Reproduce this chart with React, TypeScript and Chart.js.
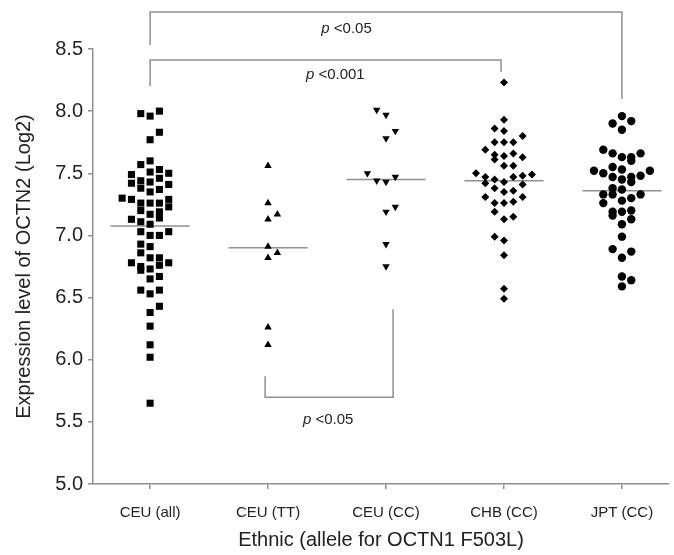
import React, { useEffect, useRef } from 'react';
import { Chart, registerables } from 'chart.js';

Chart.register(...registerables);

const categories = ['CEU (all)', 'CEU (TT)', 'CEU (CC)', 'CHB (CC)', 'JPT (CC)'];
const yTickValues = [5.0, 5.5, 6.0, 6.5, 7.0, 7.5, 8.0, 8.5];

const ceuAllValues = [7.98, 7.96, 8.0, 7.83, 7.77, 7.57, 7.6, 7.49, 7.51, 7.53, 7.5, 7.42, 7.44, 7.43, 7.46, 7.41, 7.38, 7.35, 7.37, 7.3, 7.29, 7.26, 7.26, 7.26, 7.29, 7.2, 7.17, 7.19, 7.23, 7.14, 7.13, 7.11, 7.09, 7.03, 7.0, 7.0, 7.03, 6.93, 6.91, 6.86, 6.78, 6.75, 6.72, 6.82, 6.82, 6.73, 6.76, 6.78, 6.65, 6.67, 6.56, 6.53, 6.56, 6.43, 6.38, 6.27, 6.12, 6.02, 5.65];
const ceuAllSlots = [-1, 0, 1, 1, 0, -1, 0, -2, 0, 1, 2, -2, -1, 0, 1, 2, -1, 0, 1, -3, -2, -1, 0, 1, 2, -1, 0, 1, 2, 1, -2, -1, 0, -1, 0, 1, 2, -1, 0, -1, -2, -1, -1, 0, 1, 0, 1, 2, 0, 1, -1, 0, 1, 1, 0, 0, 0, 0, 0];

const ceuTTValues = [7.56, 7.26, 7.13, 7.17, 6.91, 6.82, 6.86, 6.26, 6.12];
const ceuTTSlots = [0, 0, 0, 1, 0, 0, 1, 0, 0];

const ceuCCValues = [8.01, 7.97, 7.84, 7.78, 7.5, 7.44, 7.43, 7.47, 7.19, 7.23, 6.93, 6.75];
const ceuCCSlots = [-1, 0, 1, 0, -2, -1, 0, 1, 0, 1, 0, 0];

const chbValues = [8.23, 7.93, 7.86, 7.84, 7.8, 7.75, 7.75, 7.75, 7.69, 7.65, 7.61, 7.64, 7.66, 7.63, 7.56, 7.56, 7.5, 7.47, 7.42, 7.45, 7.43, 7.47, 7.48, 7.49, 7.41, 7.38, 7.35, 7.36, 7.31, 7.26, 7.26, 7.27, 7.31, 7.19, 7.13, 7.15, 6.99, 6.96, 6.84, 6.57, 6.49];
const chbSlots = [0, 0, -1, 0, 2, -1, 0, 1, -2, -1, -1, 0, 1, 2, 0, 1, -3, -2, -2, -1, 0, 1, 2, 3, 2, -1, 0, 1, -2, -1, 0, 1, 2, -1, 0, 1, -1, 0, 0, 0, 0];

const jptValues = [7.96, 7.9, 7.92, 7.85, 7.69, 7.66, 7.63, 7.63, 7.6, 7.66, 7.52, 7.5, 7.55, 7.53, 7.47, 7.45, 7.47, 7.43, 7.48, 7.52, 7.38, 7.33, 7.37, 7.33, 7.26, 7.28, 7.3, 7.33, 7.19, 7.16, 7.19, 7.2, 7.13, 7.09, 6.99, 6.89, 6.87, 6.82, 6.67, 6.64, 6.59];
const jptSlots = [0, -1, 1, 0, -2, -1, 0, 1, 1, 2, -3, -2, -1, 0, -1, 0, 1, 1, 2, 3, -1, -1, 0, -2, -2, 0, 1, 2, -1, -1, 0, 1, 1, 0, 0, -1, 1, 0, 0, 1, 0];

const medians = [7.075, 6.9, 7.45, 7.44, 7.36];

// significance brackets (data coordinates): x1, x2, top y, left end y, right end y
const bracketX1 = [1, 1, 1.975];
const bracketX2 = [5, 3.975, 3.06];
const bracketY = [8.798, 8.411, 5.698];
const bracketLeftEnd = [8.532, 8.202, 5.867];
const bracketRightEnd = [8.097, 8.315, 6.407];
const pLabelX = [2.665, 2.57, 2.51];
const pLabelY = [8.66, 8.29, 5.513];
const pLabelText = ['<0.05', '<0.001', '<0.05'];

const SLOT = 0.079;
const FONT = '"Liberation Sans", Arial, Helvetica, sans-serif';

function pts(values: number[], slots: number[], group: number) {
  return values.map((v, i) => ({ x: group + slots[i] * SLOT, y: v }));
}

const bracketPlugin = {
  id: 'brackets',
  afterDraw(chart: any) {
    const { ctx, scales } = chart;
    const xs = scales.x;
    const ys = scales.y;
    ctx.save();
    ctx.strokeStyle = '#8f8f8f';
    ctx.lineWidth = 1.5;
    for (let i = 0; i < bracketX1.length; i++) {
      const x1 = xs.getPixelForValue(bracketX1[i]);
      const x2 = xs.getPixelForValue(bracketX2[i]);
      const y = ys.getPixelForValue(bracketY[i]);
      const yl = ys.getPixelForValue(bracketLeftEnd[i]);
      const yr = ys.getPixelForValue(bracketRightEnd[i]);
      ctx.beginPath();
      ctx.moveTo(x1, yl);
      ctx.lineTo(x1, y);
      ctx.lineTo(x2, y);
      ctx.lineTo(x2, yr);
      ctx.stroke();
    }
    ctx.fillStyle = '#222';
    ctx.textBaseline = 'middle';
    ctx.textAlign = 'left';
    for (let i = 0; i < pLabelX.length; i++) {
      const cx = xs.getPixelForValue(pLabelX[i]);
      const cy = ys.getPixelForValue(pLabelY[i]);
      ctx.font = 'italic 15px ' + FONT;
      const pw = ctx.measureText('p ').width;
      ctx.font = '15px ' + FONT;
      const tw = ctx.measureText(pLabelText[i]).width;
      const start = cx - (pw + tw) / 2;
      ctx.font = 'italic 15px ' + FONT;
      ctx.fillText('p', start, cy);
      ctx.font = '15px ' + FONT;
      ctx.fillText(pLabelText[i], start + pw, cy);
    }
    ctx.restore();
  },
};

export default function App() {
  const ref = useRef<HTMLCanvasElement | null>(null);
  useEffect(() => {
    if (!ref.current) return;
    const black = '#000';
    const medianSets = medians.map((m, i) => ({
      type: 'scatter' as const,
      data: [
        { x: i + 1 - 0.335, y: m },
        { x: i + 1 + 0.335, y: m },
      ],
      showLine: true,
      borderColor: '#8f8f8f',
      borderWidth: 1.5,
      pointRadius: 0,
      order: 10,
    }));
    const chart = new Chart(ref.current, {
      type: 'scatter',
      data: {
        datasets: [
          ...medianSets,
          { data: pts(ceuAllValues, ceuAllSlots, 1), pointStyle: 'rect', pointRadius: 5, backgroundColor: black, borderWidth: 0 },
          { data: pts(ceuTTValues, ceuTTSlots, 2), pointStyle: 'triangle', pointRadius: 4.3, backgroundColor: black, borderWidth: 0 },
          { data: pts(ceuCCValues, ceuCCSlots, 3), pointStyle: 'triangle', rotation: 180, pointRadius: 4.3, backgroundColor: black, borderWidth: 0 },
          { data: pts(chbValues, chbSlots, 4), pointStyle: 'rectRot', pointRadius: 4, backgroundColor: black, borderWidth: 0 },
          { data: pts(jptValues, jptSlots, 5), pointStyle: 'circle', pointRadius: 4.2, backgroundColor: black, borderWidth: 0 },
        ] as any,
      },
      options: {
        animation: false,
        responsive: true,
        maintainAspectRatio: false,
        layout: { padding: { top: 49, right: 4, left: 0, bottom: 0 } },
        plugins: { legend: { display: false }, tooltip: { enabled: false } },
        scales: {
          x: {
            type: 'linear',
            min: 0.516,
            max: 5.399,
            afterFit: (s: any) => { s.height = 71; },
            afterBuildTicks: (s: any) => { s.ticks = categories.map((_, i) => ({ value: i + 1 })); },
            ticks: {
              callback: (v: any) => categories[Math.round(Number(v)) - 1] ?? '',
              font: { family: FONT, size: 15 },
              color: '#222',
              padding: 15,
              maxRotation: 0,
              autoSkip: false,
            },
            grid: { display: true, drawOnChartArea: false, drawTicks: true, tickLength: 5, color: '#8f8f8f', lineWidth: 1.5 },
            border: { display: true, color: '#8f8f8f', width: 1.5 },
            title: {
              display: true,
              text: 'Ethnic (allele for OCTN1 F503L)',
              font: { family: FONT, size: 20 },
              color: '#222',
              padding: { top: 0, bottom: 3 },
            },
          },
          y: {
            type: 'linear',
            min: 5,
            max: 8.5,
            afterFit: (s: any) => { s.width = 93; },
            afterBuildTicks: (s: any) => { s.ticks = yTickValues.map((v) => ({ value: v })); },
            ticks: {
              callback: (v: any) => Number(v).toFixed(1),
              font: { family: FONT, size: 20 },
              color: '#222',
              padding: 5,
            },
            grid: { display: true, drawOnChartArea: false, drawTicks: true, tickLength: 5, color: '#8f8f8f', lineWidth: 1.5 },
            border: { display: true, color: '#8f8f8f', width: 1.5 },
            title: {
              display: true,
              text: 'Expression level of OCTN2 (Log2)',
              font: { family: FONT, size: 20 },
              color: '#222',
              padding: { top: 12, bottom: 0 },
            },
          },
        },
      },
      plugins: [bracketPlugin],
    });
    return () => chart.destroy();
  }, []);
  return (
    <div style={{ position: 'fixed', left: 0, top: 0, width: 674, height: 555, background: '#fff' }}>
      <canvas ref={ref} />
    </div>
  );
}
